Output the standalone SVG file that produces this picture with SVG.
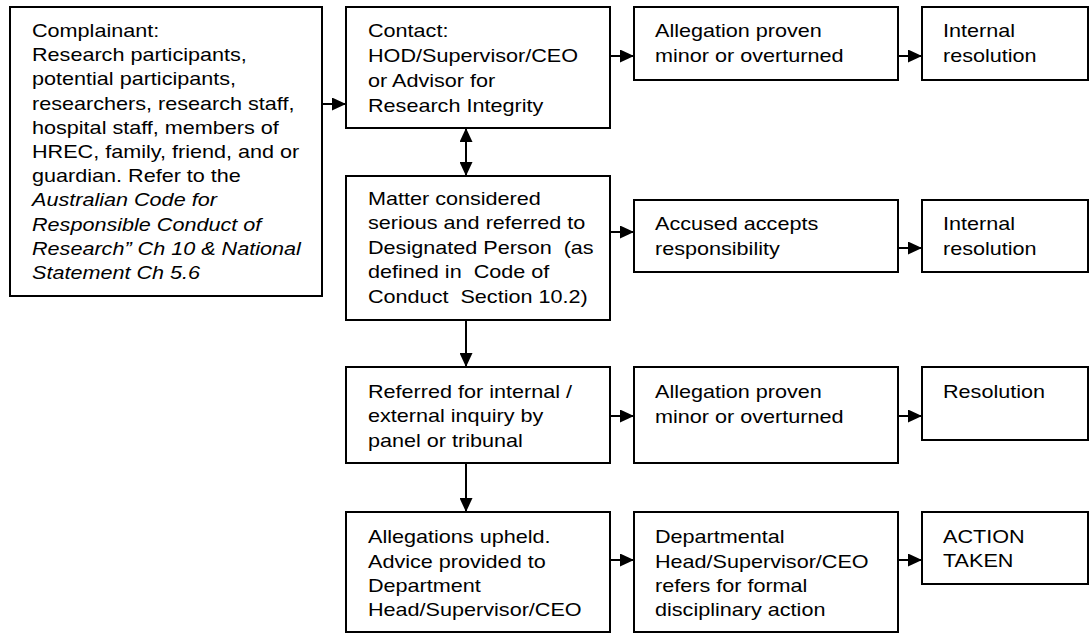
<svg xmlns="http://www.w3.org/2000/svg" width="1090" height="637" viewBox="0 0 1090 637">
<style>
rect.box{fill:#fff;stroke:#000;stroke-width:2}
text{font-family:"Liberation Sans",Arial,sans-serif;font-size:18px;fill:#000;white-space:pre}
.it{font-style:italic}
.conn line{stroke:#000;stroke-width:2}
</style>
<defs>
<marker id="ah" viewBox="0 0 14 13" refX="14" refY="6.5" markerWidth="14" markerHeight="13" markerUnits="userSpaceOnUse" orient="auto-start-reverse">
<path d="M0,0 L14,6.5 L0,13 Z" fill="#000"/>
</marker>
</defs>
<rect width="1090" height="637" fill="#fff"/>
<g class="conn">
<line x1="322" y1="104" x2="346" y2="104" marker-end="url(#ah)"/>
<line x1="610" y1="56" x2="634" y2="56" marker-end="url(#ah)"/>
<line x1="898" y1="56" x2="922" y2="56" marker-end="url(#ah)"/>
<line x1="466" y1="128" x2="466" y2="176" marker-start="url(#ah)" marker-end="url(#ah)"/>
<line x1="610" y1="232" x2="634" y2="232" marker-end="url(#ah)"/>
<line x1="898" y1="248" x2="922" y2="248" marker-end="url(#ah)"/>
<line x1="466" y1="320" x2="466" y2="367" marker-end="url(#ah)"/>
<line x1="610" y1="416" x2="634" y2="416" marker-end="url(#ah)"/>
<line x1="898" y1="416" x2="922" y2="416" marker-end="url(#ah)"/>
<line x1="466" y1="463" x2="466" y2="512" marker-end="url(#ah)"/>
<line x1="610" y1="560" x2="634" y2="560" marker-end="url(#ah)"/>
<line x1="898" y1="560" x2="922" y2="560" marker-end="url(#ah)"/>
</g>
<g id="complainant">
<rect class="box" x="10" y="7" width="312" height="289"/>
<text transform="translate(32,0) scale(1.2,1)"><tspan x="0" y="37">Complainant:</tspan><tspan x="0" y="61">Research participants,</tspan><tspan x="0" y="85">potential participants,</tspan><tspan x="0" y="110">researchers, research staff,</tspan><tspan x="0" y="134">hospital staff, members of</tspan><tspan x="0" y="158">HREC, family, friend, and or</tspan><tspan x="0" y="182">guardian. Refer to the</tspan><tspan class="it" x="0" y="206">Australian Code for</tspan><tspan class="it" x="0" y="231">Responsible Conduct of</tspan><tspan class="it" x="0" y="255">Research” Ch 10 &amp; National</tspan><tspan class="it" x="0" y="279">Statement Ch 5.6</tspan></text>
</g>
<g id="contact">
<rect class="box" x="346" y="7" width="264" height="121"/>
<text transform="translate(368,0) scale(1.2,1)"><tspan x="0" y="37">Contact:</tspan><tspan x="0" y="62">HOD/Supervisor/CEO</tspan><tspan x="0" y="87">or Advisor for</tspan><tspan x="0" y="112">Research Integrity</tspan></text>
</g>
<g id="allegation1">
<rect class="box" x="634" y="7" width="264" height="73"/>
<text transform="translate(655,0) scale(1.2,1)"><tspan x="0" y="37">Allegation proven</tspan><tspan x="0" y="62">minor or overturned</tspan></text>
</g>
<g id="internal1">
<rect class="box" x="922" y="7" width="166" height="73"/>
<text transform="translate(943,0) scale(1.2,1)"><tspan x="0" y="37">Internal</tspan><tspan x="0" y="62">resolution</tspan></text>
</g>
<g id="matter">
<rect class="box" x="346" y="176" width="264" height="144"/>
<text transform="translate(368,0) scale(1.2,1)"><tspan x="0" y="205">Matter considered</tspan><tspan x="0" y="229">serious and referred to</tspan><tspan x="0" y="254">Designated Person  (as</tspan><tspan x="0" y="278">defined in  Code of</tspan><tspan x="0" y="303">Conduct  Section 10.2)</tspan></text>
</g>
<g id="accused">
<rect class="box" x="634" y="200" width="264" height="72"/>
<text transform="translate(655,0) scale(1.2,1)"><tspan x="0" y="230">Accused accepts</tspan><tspan x="0" y="255">responsibility</tspan></text>
</g>
<g id="internal2">
<rect class="box" x="922" y="200" width="166" height="72"/>
<text transform="translate(943,0) scale(1.2,1)"><tspan x="0" y="230">Internal</tspan><tspan x="0" y="255">resolution</tspan></text>
</g>
<g id="referred">
<rect class="box" x="346" y="367" width="264" height="96"/>
<text transform="translate(368,0) scale(1.2,1)"><tspan x="0" y="398">Referred for internal /</tspan><tspan x="0" y="422">external inquiry by</tspan><tspan x="0" y="447">panel or tribunal</tspan></text>
</g>
<g id="allegation3">
<rect class="box" x="634" y="367" width="264" height="96"/>
<text transform="translate(655,0) scale(1.2,1)"><tspan x="0" y="398">Allegation proven</tspan><tspan x="0" y="423">minor or overturned</tspan></text>
</g>
<g id="resolution">
<rect class="box" x="922" y="367" width="166" height="73"/>
<text transform="translate(943,0) scale(1.2,1)"><tspan x="0" y="398">Resolution</tspan></text>
</g>
<g id="upheld">
<rect class="box" x="346" y="512" width="264" height="120"/>
<text transform="translate(368,0) scale(1.2,1)"><tspan x="0" y="543">Allegations upheld.</tspan><tspan x="0" y="568">Advice provided to</tspan><tspan x="0" y="592">Department</tspan><tspan x="0" y="616">Head/Supervisor/CEO</tspan></text>
</g>
<g id="departmental">
<rect class="box" x="634" y="512" width="264" height="120"/>
<text transform="translate(655,0) scale(1.2,1)"><tspan x="0" y="543">Departmental</tspan><tspan x="0" y="568">Head/Supervisor/CEO</tspan><tspan x="0" y="592">refers for formal</tspan><tspan x="0" y="616">disciplinary action</tspan></text>
</g>
<g id="action">
<rect class="box" x="922" y="512" width="166" height="72"/>
<text transform="translate(943,0) scale(1.2,1)"><tspan x="0" y="543">ACTION</tspan><tspan x="0" y="567">TAKEN</tspan></text>
</g>
</svg>
